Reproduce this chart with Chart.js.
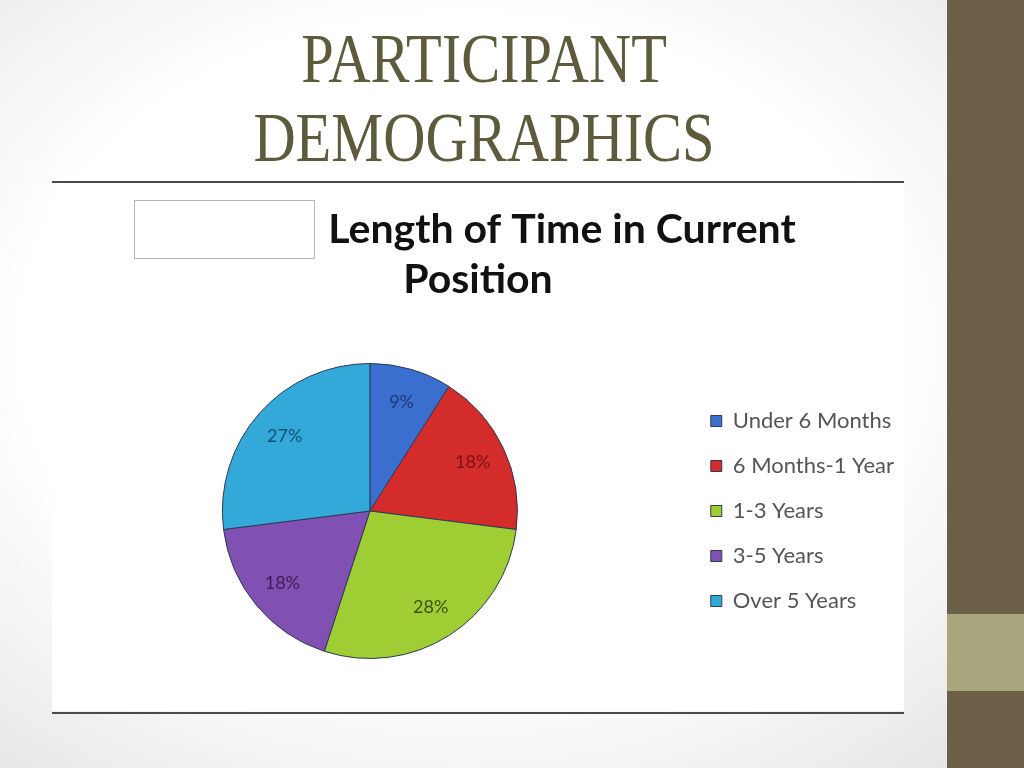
<!DOCTYPE html>
<html lang="en">
<head>
    <meta charset="UTF-8">
    <title>Participant Demographics</title>
    <script src="https://cdn.jsdelivr.net/npm/chart.js"></script>
    <style>
        html, body { margin: 0; padding: 0; }
        body {
            width: 1024px; height: 768px; position: relative; overflow: hidden;
            background: radial-gradient(ellipse at 45% 45%, #ffffff 55%, #e2e2e2 100%);
        }
        #sidebar { position: absolute; left: 947px; top: 0; width: 77px; height: 768px; background: #6b5f48; }
        #sideBlock { position: absolute; left: 947px; top: 614px; width: 77px; height: 77px; background: #a8a67c; }
        .heading {
            position: absolute; left: 0; width: 968px; text-align: center;
            font-family: "Liberation Serif", serif; font-size: 70px; color: #5e5a3c;
            transform: scaleX(0.835); transform-origin: 484px 0;
        }
        #rule1, #rule2 { position: absolute; left: 52px; width: 852px; height: 2px; background: #4a4a4a; }
        #rule1 { top: 181px; }
        #rule2 { top: 712px; }
        #panel { position: absolute; left: 52px; top: 184px; width: 852px; height: 527px; background: #fff; }
        #chartBox { position: absolute; left: 52px; top: 184px; }
        #blank { position: absolute; left: 134px; top: 200px; width: 179px; height: 57px; background: #fff; border: 1px solid #b5b5b5; }
    </style>
</head>
<body>
    <div id="sidebar"></div>
    <div id="sideBlock"></div>
    <div class="heading" style="top: 19px;">PARTICIPANT</div>
    <div class="heading" style="top: 98px;">DEMOGRAPHICS</div>
    <div id="rule1"></div>
    <div id="panel"></div>
    <div id="chartBox"><canvas id="pieChart" width="852" height="527"></canvas></div>
    <div id="blank"></div>
    <div id="rule2"></div>

    <script>
        // values (percent of participants)
        const categories = ["Under 6 Months", "6 Months-1 Year", "1-3 Years", "3-5 Years", "Over 5 Years"];
        const shares = [9, 18, 28, 18, 27];
        const sliceColors = ["#3b6fcf", "#d42b2b", "#9fcd34", "#8150b3", "#32a9d9"];
        const labelColors = ["#1d3a78", "#7d1313", "#3d5512", "#3b2058", "#175170"];
        const titleLines = ["Length of Time in Current", "Position"];

        // chart title, drawn in two lines like the original slide
        const titleText = {
            id: 'titleText',
            afterDraw(chart) {
                const ctx = chart.ctx;
                ctx.save();
                ctx.fillStyle = '#111';
                ctx.font = 'bold 41px Lato';
                ctx.textAlign = 'center';
                ctx.textBaseline = 'middle';
                ctx.fillText(titleLines[0], 510, 46);
                ctx.fillText(titleLines[1], 426, 96);
                ctx.restore();
            }
        };

        // percentage labels inside each slice
        const sliceLabels = {
            id: 'sliceLabels',
            afterDatasetsDraw(chart) {
                const ctx = chart.ctx;
                const meta = chart.getDatasetMeta(0);
                ctx.save();
                ctx.font = '18px Lato';
                ctx.textAlign = 'center';
                ctx.textBaseline = 'middle';
                meta.data.forEach((arc, i) => {
                    const p = arc.getProps(['x', 'y', 'startAngle', 'endAngle', 'outerRadius'], true);
                    const mid = (p.startAngle + p.endAngle) / 2;
                    const r = p.outerRadius * 0.77;
                    ctx.fillStyle = labelColors[i];
                    ctx.fillText(shares[i] + '%', p.x + Math.cos(mid) * r, p.y + Math.sin(mid) * r);
                });
                ctx.restore();
            }
        };

        const ctx = document.getElementById("pieChart").getContext("2d");
        const chart = new Chart(ctx, {
            type: 'pie',
            data: {
                labels: categories,
                datasets: [{
                    data: shares,
                    backgroundColor: sliceColors,
                    borderColor: '#2e3a55',
                    borderWidth: 1
                }]
            },
            options: {
                responsive: false,
                animation: false,
                layout: { padding: { top: 179, bottom: 52, left: 0, right: 0 } },
                plugins: {
                    tooltip: { enabled: false },
                    legend: {
                        position: 'right',
                        labels: {
                            boxWidth: 11,
                            boxHeight: 11,
                            padding: 23,
                            color: '#555',
                            font: { family: 'Lato', size: 22 }
                        }
                    }
                }
            },
            plugins: [titleText, sliceLabels]
        });
    </script>
</body>
</html>
